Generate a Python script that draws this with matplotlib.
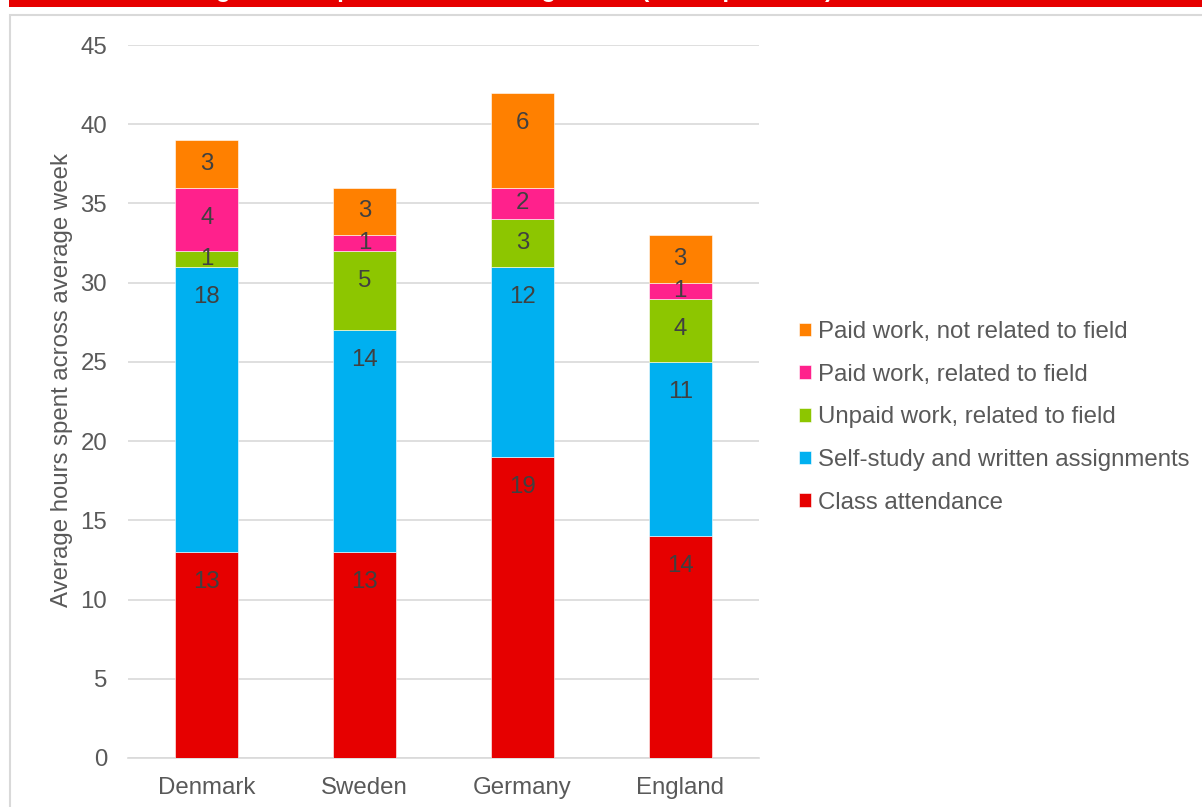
import numpy as np
import matplotlib
matplotlib.use("Agg")
import matplotlib.pyplot as plt
from matplotlib.patches import Rectangle

plt.rcParams['font.family'] = ['Liberation Sans', 'DejaVu Sans']

# weekly hours per activity, by country
countries = ["Denmark", "Sweden", "Germany", "England"]
activities = [
    "Class attendance",
    "Self-study and written assignments",
    "Unpaid work, related to field",
    "Paid work, related to field",
    "Paid work, not related to field",
]
class_attendance = [13, 13, 19, 14]
self_study = [18, 14, 12, 11]
unpaid_related = [1, 5, 3, 4]
paid_related = [4, 1, 2, 1]
paid_unrelated = [3, 3, 6, 3]

colors = ["#E60000", "#00B0F0", "#8DC600", "#FF218C", "#FF8000"]
series = [class_attendance, self_study, unpaid_related, paid_related, paid_unrelated]

FS = 17.3
W, H = 1202, 807
fig = plt.figure(figsize=(W / 100, H / 100), dpi=100)

# red banner with the (cut off) title, and the frame around the chart
fig.patches.append(Rectangle((9 / W, 1 - 7 / H), 1, 7 / H, transform=fig.transFigure,
                             facecolor="#E60000", edgecolor="none", zorder=0))
fig.patches.append(Rectangle((9.5 / W, -0.05), 1.2, 1.05 - 14.5 / H, transform=fig.transFigure,
                             facecolor="none", edgecolor="#D9D9D9", linewidth=1.5, zorder=0))
fig.text(150 / W, 1 + 3 / H, "Average hours spent across average week (hours per week)",
         color="white", fontsize=FS, fontweight="bold", va="baseline", ha="left")

ax = fig.add_axes([128 / W, 49 / H, 631 / W, 713 / H])
x = np.arange(len(countries))
bottom = np.zeros(len(countries))
handles = []
for name, vals, col in zip(activities, series, colors):
    vals = np.array(vals, dtype=float)
    bars = ax.bar(x, vals, width=0.4, bottom=bottom, color=col, label=name,
                  edgecolor="white", linewidth=0.4, zorder=3)
    handles.append(bars)
    tops = bottom + vals
    for xi, b, t, v in zip(x, bottom, tops, vals):
        # label sits near the top of the segment, centred when the segment is short
        ypos = max(t - 1.9, (b + t) / 2)
        ax.text(xi, ypos, f"{int(v)}", ha="center", va="center",
                fontsize=FS, color="#404040", zorder=4)
    bottom = tops

ax.set_xlim(-0.5, 3.5)
ax.set_ylim(0, 45)
ax.set_yticks(np.arange(0, 46, 5))
ax.set_xticks(x)
ax.set_xticklabels(countries)
ax.tick_params(axis="both", length=0, labelsize=FS, labelcolor="#595959")
ax.tick_params(axis="y", pad=15)
ax.tick_params(axis="x", pad=14)
ax.yaxis.grid(True, color="#D9D9D9", linewidth=1.2, zorder=0)
ax.set_axisbelow(True)
for side in ["top", "right", "left"]:
    ax.spines[side].set_visible(False)
ax.spines["bottom"].set_color("#D9D9D9")
ax.spines["bottom"].set_linewidth(1.2)
ax.set_ylabel("Average hours spent across average week", fontsize=FS, color="#595959")
ax.yaxis.set_label_coords(-0.087, 0.53)

leg = ax.legend(handles[::-1], activities[::-1], loc="upper left",
                bbox_to_anchor=(799 / W, 1 - 321 / H), bbox_transform=fig.transFigure,
                frameon=False, fontsize=FS, handlelength=0.5, handleheight=0.5,
                handletextpad=0.28, labelspacing=0.86, borderpad=0, borderaxespad=0)
for t in leg.get_texts():
    t.set_color("#595959")

fig.savefig("out.png", dpi=100)
